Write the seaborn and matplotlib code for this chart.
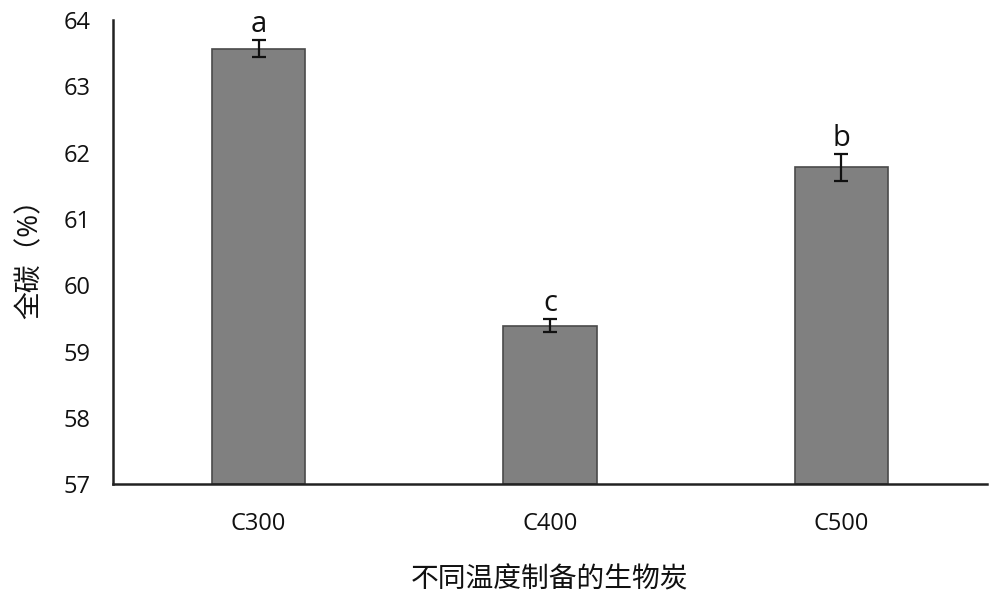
import pandas as pd
import numpy as np
import matplotlib
matplotlib.use('Agg')
import matplotlib.pyplot as plt
import seaborn as sns

# data
samples = ['C300', 'C400', 'C500']
total_carbon = [63.57, 59.39, 61.78]
errors = [0.13, 0.10, 0.20]
letters = ['a', 'c', 'b']

df = pd.DataFrame({'sample': samples, 'carbon': total_carbon})

sns.set_style('white')
plt.rcParams['font.family'] = ['Open Sans', 'Noto Sans CJK SC', 'DejaVu Sans']
plt.rcParams['text.color'] = '#111111'
plt.rcParams['axes.labelcolor'] = '#111111'
plt.rcParams['xtick.color'] = '#111111'
plt.rcParams['ytick.color'] = '#111111'

fig = plt.figure(figsize=(10, 5.94), dpi=100)
ax = fig.add_axes([0.113, 0.185, 0.874, 0.781])

sns.barplot(data=df, x='sample', y='carbon', color='#808080', width=0.32,
            edgecolor='#4a4a4a', linewidth=1.2, saturation=1, ax=ax)
# pin bars to bottom of the axis range
for p in ax.patches:
    h = p.get_height()
    p.set_y(57)
    p.set_height(h - 57)

ax.errorbar(range(len(samples)), total_carbon, yerr=errors, fmt='none',
            ecolor='#111111', elinewidth=1.6, capsize=5, capthick=1.6)

for i, (v, e, l) in enumerate(zip(total_carbon, errors, letters)):
    ax.text(i, v + e + 0.02, l, ha='center', va='bottom', fontsize=21)

ax.set_ylim(57, 64)
ax.set_xlim(-0.5, 2.5)
ax.set_yticks(range(57, 65))
ax.tick_params(axis='y', direction='in', length=5, width=1.2, labelsize=17, pad=16)
ax.tick_params(axis='x', length=0, labelsize=17, pad=20)

for s in ['top', 'right']:
    ax.spines[s].set_visible(False)
for s in ['left', 'bottom']:
    ax.spines[s].set_color('#222222')
    ax.spines[s].set_linewidth(1.8)

ax.set_xlabel('不同温度制备的生物炭', fontsize=20, labelpad=22)
ax.set_ylabel('全碳（%）', fontsize=20, labelpad=14)

plt.savefig('out.png', dpi=100)
